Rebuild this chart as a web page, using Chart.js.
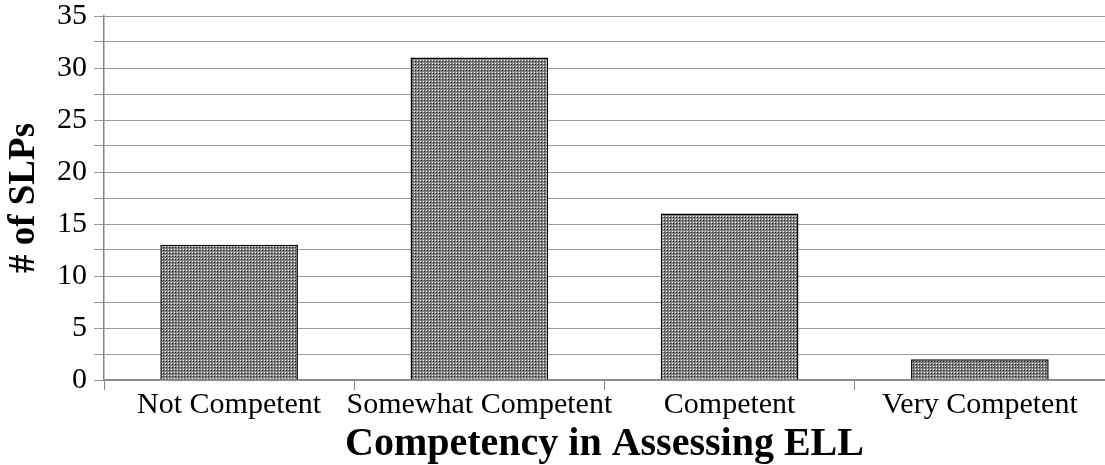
<!DOCTYPE html>
<html>
<head>
<meta charset="utf-8">
<script src="https://cdn.jsdelivr.net/npm/chart.js@4"></script>
<style>
  html, body { margin: 0; padding: 0; background: #fff; }
  #wrap { width: 1105px; height: 465px; }
</style>
</head>
<body>
<div id="wrap"><canvas id="chart" width="1105" height="465"></canvas></div>
<script>
// data
const categories = ['Not Competent', 'Somewhat Competent', 'Competent', 'Very Competent'];
const slpCounts = [13, 31, 16, 2];
const yTicks = [0, 5, 10, 15, 20, 25, 30, 35];

// dotted grey fill like the original
function makePattern() {
    const c = document.createElement('canvas');
    c.width = 3; c.height = 3;
    const g = c.getContext('2d');
    g.fillStyle = '#828282';
    g.fillRect(0, 0, 3, 3);
    g.fillStyle = '#ffffff';
    g.fillRect(0, 0, 1, 1);
    g.fillStyle = '#202020';
    g.fillRect(1, 1, 1, 1);
    return g.createPattern(c, 'repeat');
}

const ctx = document.getElementById('chart').getContext('2d');
new Chart(ctx, {
    type: 'bar',
    data: {
        labels: categories,
        datasets: [{
            data: slpCounts,
            backgroundColor: makePattern(),
            borderColor: '#000',
            borderWidth: 1.5,
            barPercentage: 0.55,
            categoryPercentage: 1
        }]
    },
    options: {
        responsive: false,
        animation: false,
        layout: { padding: { top: -13, right: 0, bottom: 0, left: 6 } },
        plugins: { legend: { display: false }, tooltip: { enabled: false } },
        scales: {
            x: {
                offset: true,
                grid: { display: true, offset: true, drawOnChartArea: false, color: '#888', tickLength: 10 },
                border: { color: '#888', width: 1.5 },
                ticks: { color: '#000', font: { family: 'Liberation Serif', size: 30, lineHeight: 1 }, padding: 0, maxRotation: 0, autoSkip: false },
                title: {
                    display: true,
                    text: 'Competency in Assessing ELL',
                    color: '#000',
                    font: { family: 'Liberation Serif', size: 40, weight: 'bold', lineHeight: 1 },
                    padding: { top: 5, bottom: 0 }
                }
            },
            y: {
                min: 0,
                max: 35,
                ticks: {
                    stepSize: 2.5,
                    autoSkip: false,
                    color: '#000',
                    font: { family: 'Liberation Serif', size: 30, lineHeight: 0.6 },
                    padding: 7,
                    callback: v => yTicks.includes(v) ? v : ''
                },
                grid: { color: '#999', tickLength: 10 },
                border: { color: '#888', width: 1.5 },
                title: {
                    display: true,
                    text: '# of SLPs',
                    color: '#000',
                    font: { family: 'Liberation Serif', size: 37, weight: 'bold', lineHeight: 1 },
                    padding: { top: 0, bottom: 7 }
                }
            }
        }
    }
});
</script>
</body>
</html>
